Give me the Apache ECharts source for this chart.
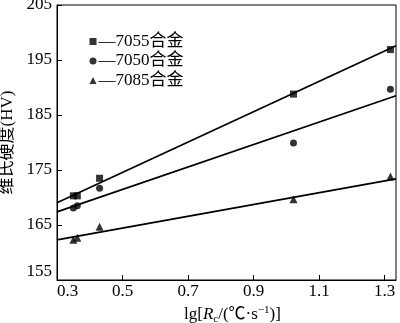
<!DOCTYPE html>
<html>
<head>
<meta charset="utf-8">
<script src="https://cdn.jsdelivr.net/npm/echarts@6/dist/echarts.min.js"></script>
<style>
html,body{margin:0;padding:0;background:#fff;}
#c{width:400px;height:323px;}
</style>
</head>
<body>
<div id="c"></div>
<script>
// lg of cooling rate for each sample
const xValues = [0.350, 0.362, 0.430, 1.022, 1.318];
const hv7055 = [170.3, 170.3, 173.5, 188.8, 196.9];
const hv7050 = [168.1, 168.5, 171.7, 179.9, 189.7];
const hv7085 = [162.3, 162.7, 164.7, 169.7, 173.8];
// fitted lines, read at the axis ends
const fitX = [0.3, 1.335];
const fit7055 = [169.05, 197.6];
const fit7050 = [167.4, 188.5];
const fit7085 = [162.3, 173.4];
const seriesNames = ['—7055合金', '—7050合金', '—7085合金'];
const seriesSymbols = ['rect', 'circle', 'triangle'];
const xTicks = [0.3, 0.5, 0.7, 0.9, 1.1, 1.3];
const yTicks = [155, 165, 175, 185, 195, 205];

const serif = '"Liberation Serif","Times New Roman","Noto Sans CJK SC",serif';
const pts = (xs, ys) => xs.map((x, i) => [x, ys[i]]);
const hvSets = [hv7055, hv7050, hv7085];
const fitSets = [fit7055, fit7050, fit7085];

const series = [];
hvSets.forEach((hv, k) => {
  series.push({
    name: seriesNames[k], type: 'scatter', symbol: seriesSymbols[k],
    symbolSize: k === 2 ? 8 : 7,
    itemStyle: {color: '#000'}, data: pts(xValues, hv), z: 3
  });
  series.push({
    type: 'line', data: pts(fitX, fitSets[k]), symbol: 'none',
    lineStyle: {color: '#000', width: 1.8}, silent: true, z: 2
  });
});

const chart = echarts.init(document.getElementById('c'), null, {renderer: 'canvas'});
chart.setOption({
  animation: false,
  backgroundColor: '#fff',
  grid: {left: 57, right: 4, top: 5, bottom: 43, containLabel: false, outerBoundsMode: 'none',
         show: true, borderColor: '#000', borderWidth: 1},
  legend: {
    orient: 'vertical', left: 84.5, top: 28,
    itemWidth: 7, itemHeight: 7, itemGap: 2.5,
    textStyle: {fontFamily: serif, fontSize: 17, color: '#000', lineHeight: 17, padding: [0, 0, 0, -3]},
    data: seriesNames.map((n, i) => ({name: n, icon: seriesSymbols[i]})),
    itemStyle: {color: '#000'}
  },
  xAxis: {
    type: 'value', min: 0.3, max: 1.335, interval: 0.2,
    splitLine: {show: false},
    axisLine: {onZero: false, lineStyle: {color: '#000', width: 1}},
    axisTick: {inside: true, length: 5, lineStyle: {color: '#000'}},
    axisLabel: {
      fontFamily: serif, fontSize: 17, color: '#000', margin: 3,
      showMaxLabel: false, alignMinLabel: 'left',
      formatter: v => (xTicks.some(t => Math.abs(t - v) < 1e-6) ? v.toFixed(1) : '')
    },
    name: 'lg[{i|R}{sub|c}/(℃·s{sup|−1})]',
    nameLocation: 'middle', nameGap: 23,
    nameTextStyle: {
      fontFamily: serif, fontSize: 17, color: '#000', lineHeight: 20, padding: [0, 0, 0, 12],
      rich: {
        i: {fontFamily: serif, fontSize: 17, fontStyle: 'italic', color: '#000', lineHeight: 20},
        sub: {fontFamily: serif, fontSize: 11, color: '#000', verticalAlign: 'bottom', lineHeight: 20},
        sup: {fontFamily: serif, fontSize: 11, color: '#000', verticalAlign: 'top', lineHeight: 20}
      }
    }
  },
  yAxis: {
    type: 'value', min: 155, max: 205, interval: 10,
    splitLine: {show: false},
    axisLine: {onZero: false, lineStyle: {color: '#000', width: 1}},
    axisTick: {inside: true, length: 5, lineStyle: {color: '#000'}},
    axisLabel: {
      fontFamily: serif, fontSize: 17, color: '#000', margin: 5,
      verticalAlignMinLabel: 'bottom',
      formatter: v => (yTicks.includes(v) ? String(v) : '')
    },
    name: '维氏硬度(HV)', nameLocation: 'middle', nameGap: 40,
    nameTextStyle: {fontFamily: serif, fontSize: 17, color: '#000'}
  },
  series: series
});
</script>
</body>
</html>
